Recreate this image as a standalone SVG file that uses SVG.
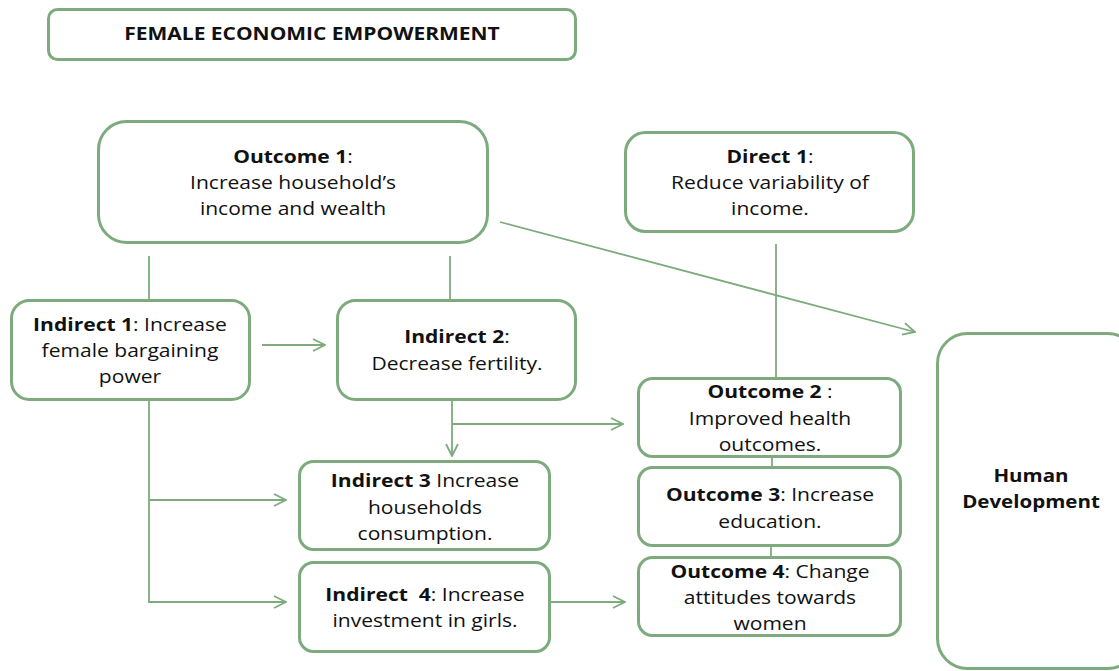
<svg xmlns="http://www.w3.org/2000/svg" width="1119" height="671" viewBox="0 0 1119 671">
<defs>
<style>
.box{fill:#fff;stroke:#7dab7d;stroke-width:3}
.t{font-family:"Open Sans","Liberation Sans",sans-serif;font-size:18px;fill:#111;text-anchor:middle}
.b{font-weight:bold}
.c{fill:none;stroke:#7dab7d;stroke-width:1.8}
</style>
<marker id="arr" viewBox="0 0 14 14" refX="13" refY="7" markerWidth="14" markerHeight="14" markerUnits="userSpaceOnUse" orient="auto">
<polyline points="1,1 13,7 1,13" fill="none" stroke="#7dab7d" stroke-width="1.8"/>
</marker>
</defs>
<rect width="1119" height="671" fill="#fff"/>
<g id="connectors">
<line class="c" x1="149" y1="256" x2="149" y2="300"/>
<line class="c" x1="450" y1="256" x2="450" y2="300"/>
<line class="c" x1="262" y1="345" x2="325" y2="345" marker-end="url(#arr)"/>
<line class="c" x1="500" y1="222" x2="915" y2="332" marker-end="url(#arr)"/>
<line class="c" x1="776" y1="244" x2="776" y2="378"/>
<line class="c" x1="452" y1="400" x2="452" y2="456" marker-end="url(#arr)"/>
<line class="c" x1="452" y1="424" x2="623" y2="424" marker-end="url(#arr)"/>
<polyline class="c" points="149,400 149,602 286,602" marker-end="url(#arr)"/>
<line class="c" x1="149" y1="500" x2="286" y2="500" marker-end="url(#arr)"/>
<line class="c" x1="550" y1="602" x2="625" y2="602" marker-end="url(#arr)"/>
<line class="c" x1="772" y1="457" x2="772" y2="467"/>
<line class="c" x1="771" y1="546" x2="771" y2="557"/>
</g>
<g id="title">
<rect class="box" x="48.5" y="9.5" width="527" height="50" rx="9"/>
<g transform="translate(312 0) scale(1.165 1)"><text class="t b" x="0" y="40">FEMALE ECONOMIC EMPOWERMENT</text></g>
</g>
<g id="outcome1">
<rect class="box" x="98.5" y="121.5" width="389" height="121" rx="28"/>
<g transform="translate(293 0) scale(1.17 1)">
<text class="t" x="0" y="163"><tspan class="b">Outcome 1</tspan>:</text>
<text class="t" x="0" y="189">Increase household’s</text>
<text class="t" x="0" y="215">income and wealth</text>
</g>
</g>
<g id="direct1">
<rect class="box" x="625.5" y="132.5" width="288" height="99" rx="20"/>
<g transform="translate(770 0) scale(1.17 1)">
<text class="t" x="0" y="163"><tspan class="b">Direct 1</tspan>:</text>
<text class="t" x="0" y="189">Reduce variability of</text>
<text class="t" x="0" y="215">income.</text>
</g>
</g>
<g id="indirect1">
<rect class="box" x="11.5" y="300.5" width="238" height="99" rx="18"/>
<g transform="translate(130 0) scale(1.17 1)">
<text class="t" x="0" y="331"><tspan class="b">Indirect 1</tspan>: Increase</text>
<text class="t" x="0" y="357">female bargaining</text>
<text class="t" x="0" y="383">power</text>
</g>
</g>
<g id="indirect2">
<rect class="box" x="337.5" y="300.5" width="238" height="99" rx="18"/>
<g transform="translate(457 0) scale(1.17 1)">
<text class="t" x="0" y="343"><tspan class="b">Indirect 2</tspan>:</text>
<text class="t" x="0" y="370">Decrease fertility.</text>
</g>
</g>
<g id="outcome2">
<rect class="box" x="638.5" y="378.5" width="262" height="78" rx="14"/>
<g transform="translate(770 0) scale(1.17 1)">
<text class="t" x="0" y="398"><tspan class="b">Outcome 2</tspan> :</text>
<text class="t" x="0" y="425">Improved health</text>
<text class="t" x="0" y="451">outcomes.</text>
</g>
</g>
<g id="indirect3">
<rect class="box" x="299.5" y="461.5" width="250" height="88" rx="14"/>
<g transform="translate(425 0) scale(1.17 1)">
<text class="t" x="0" y="487"><tspan class="b">Indirect 3</tspan> Increase</text>
<text class="t" x="0" y="514">households</text>
<text class="t" x="0" y="540">consumption.</text>
</g>
</g>
<g id="outcome3">
<rect class="box" x="638.5" y="467.5" width="262" height="78" rx="14"/>
<g transform="translate(770 0) scale(1.17 1)">
<text class="t" x="0" y="501"><tspan class="b">Outcome 3</tspan>: Increase</text>
<text class="t" x="0" y="528">education.</text>
</g>
</g>
<g id="indirect4">
<rect class="box" x="299.5" y="562.5" width="250" height="89" rx="14"/>
<g transform="translate(425 0) scale(1.17 1)">
<text class="t" x="0" y="601" xml:space="preserve"><tspan class="b">Indirect  4</tspan>: Increase</text>
<text class="t" x="0" y="627">investment in girls.</text>
</g>
</g>
<g id="outcome4">
<rect class="box" x="638.5" y="557.5" width="262" height="78" rx="14"/>
<g transform="translate(770 0) scale(1.17 1)">
<text class="t" x="0" y="578"><tspan class="b">Outcome 4</tspan>: Change</text>
<text class="t" x="0" y="604">attitudes towards</text>
<text class="t" x="0" y="630">women</text>
</g>
</g>
<g id="human">
<rect class="box" x="937.5" y="333.5" width="200" height="335" rx="30"/>
<g transform="translate(1031 0) scale(1.14 1)">
<text class="t b" x="0" y="482">Human</text>
<text class="t b" x="0" y="508">Development</text>
</g>
</g>
</svg>
